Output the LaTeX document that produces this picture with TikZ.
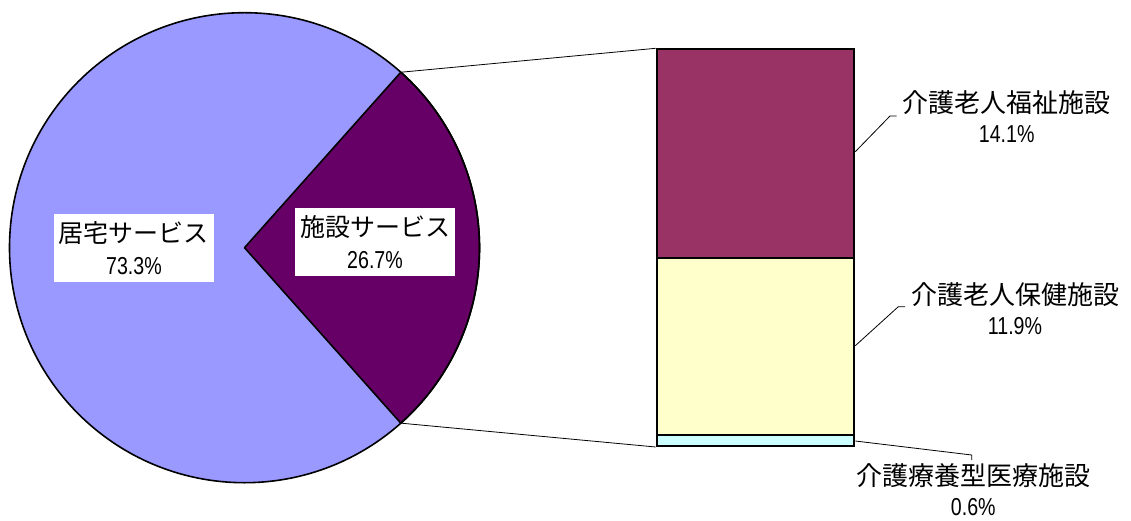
\documentclass[tikz,border=0pt]{standalone}
\usepackage{fontspec}
\usepackage{graphicx}
\usetikzlibrary{calc}
\setmainfont{Liberation Sans}
\newfontfamily\jp{Noto Sans CJK JP}
\newcommand\pctnum[1]{{\fontsize{24.5}{30}\selectfont\scalebox{0.8}[1]{#1}}}
\definecolor{homecol}{HTML}{9999FF}
\definecolor{instcol}{HTML}{660066}
\definecolor{welfcol}{HTML}{993366}
\definecolor{healcol}{HTML}{FFFFCC}
\definecolor{medcol}{HTML}{CCFFFF}
\tikzset{
  pielabel/.style={fill=white, inner sep=0pt, minimum width=160pt, minimum height=68pt, align=center, font=\fontsize{21}{31.5}\selectfont},
  sidelabel/.style={inner sep=0pt, align=center, font=\fontsize{21}{30}\selectfont},
  barseg/.style={draw=black, line width=2pt},
  leader/.style={draw=black, line width=0.8pt},
}
\begin{document}
\begin{tikzpicture}[x=1pt,y=1pt]
\useasboundingbox (0,0) rectangle (1131,520);
\fill[white] (0,0) rectangle (1131,520);
% pie
\coordinate (c) at (244.5,272.3);
\fill[homecol] (c) circle (235);
\draw[fill=instcol, line width=1.6pt, line join=round] (c) -- ($(c)+(48.3:235)$) coordinate (ptop) arc[start angle=48.3, end angle=-48.3, radius=235] coordinate (pbot) -- cycle;
\draw[line width=1.6pt] (c) circle (235);
% bar
\node[barseg, fill=welfcol, minimum width=197.6pt, minimum height=208.4pt, inner sep=0pt, anchor=north west] (welf) at (655.7,471.7) {};
\node[barseg, fill=healcol, minimum width=197.6pt, minimum height=177.3pt, inner sep=0pt, anchor=north west] (heal) at (655.7,263.3) {};
\node[barseg, fill=medcol, minimum width=197.6pt, minimum height=11pt, inner sep=0pt, anchor=north west] (med) at (655.7,86) {};
% connectors pie to bar
\draw[leader] (ptop) -- (welf.north west);
\draw[leader] (pbot) -- (med.south west);
% pie labels
\node[pielabel] (homelab) at (133.9,272.1) {{\jp\fontsize{25}{31.5}\selectfont 居宅サービス}\\\pctnum{73.3\%}};
\node[pielabel] (instlab) at (375,278.1) {{\jp\fontsize{25}{31.5}\selectfont 施設サービス}\\\pctnum{26.7\%}};
% side labels
\node[sidelabel] (welflab) at (1006.7,403.3) {{\jp\fontsize{26}{30}\selectfont 介護老人福祉施設}\\\pctnum{14.1\%}};
\node[sidelabel] (heallab) at (1015,211.7) {{\jp\fontsize{26}{30}\selectfont 介護老人保健施設}\\\pctnum{11.9\%}};
\node[sidelabel] (medlab) at (973.3,30.5) {{\jp\fontsize{26}{30}\selectfont 介護療養型医療施設}\\\pctnum{0.6\%}};
% leaders
\coordinate (w1) at (890,404);
\coordinate (w2) at (896.7,404);
\coordinate (h1) at (898.3,213.3);
\coordinate (h2) at (905,213.3);
\coordinate (m1) at (971.7,65);
\coordinate (m2) at (971.7,60);
\draw[leader] (welf.east |- 0,368.3) -- (w1) -- (w2);
\draw[leader] (heal.east |- 0,174.3) -- (h1) -- (h2);
\draw[leader] (med.east |- 0,79) -- (m1) -- (m2);
\end{tikzpicture}
\end{document}
